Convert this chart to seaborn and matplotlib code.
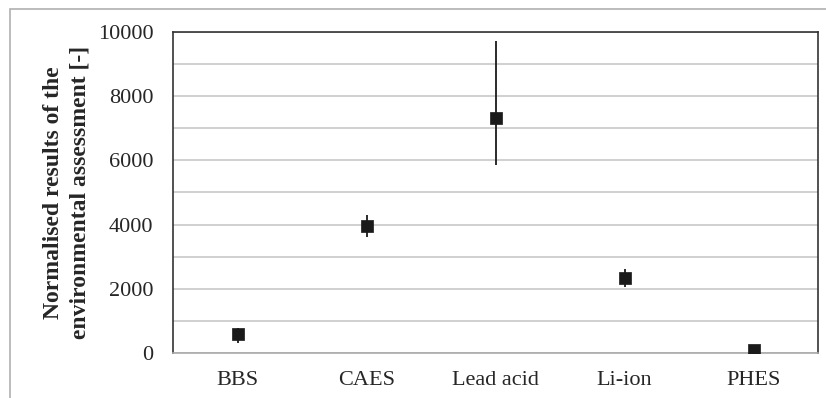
import matplotlib
matplotlib.use("Agg")
import matplotlib.pyplot as plt
import seaborn as sns
import pandas as pd
import numpy as np
from matplotlib.patches import Rectangle

categories = ["BBS", "CAES", "Lead acid", "Li-ion", "PHES"]
values = [580, 3970, 7310, 2340, 80]
err_low = [320, 3600, 5860, 2070, 80]
err_high = [790, 4300, 9730, 2610, 80]

df = pd.DataFrame({"system": categories, "value": values,
                   "low": err_low, "high": err_high})

sns.set_style("white")
plt.rcParams["font.family"] = ["Liberation Serif", "DejaVu Serif"]

fig = plt.figure(figsize=(8.26, 3.98), dpi=100)
ax = fig.add_axes([173/826, 1-353/398, (818-173)/826, (353-32)/398])

# outer frame
fig.patches.append(Rectangle((10/826, -0.1), 1.2, (398-8.5)/398 + 0.1,
                             transform=fig.transFigure, fill=False,
                             edgecolor="#b0b0b0", linewidth=1.2, zorder=0))

pos = np.arange(len(categories))
ax.vlines(pos, df["low"], df["high"], color="#1a1a1a", linewidth=1.3, zorder=3)
sns.scatterplot(data=df, x="system", y="value", marker="s", s=80,
                color="#1a1a1a", edgecolor="#1a1a1a", linewidth=0.5,
                ax=ax, zorder=4, legend=False)

ax.set_xlim(-0.5, len(categories) - 0.5)
ax.set_ylim(0, 10000)
ax.set_yticks(np.arange(0, 10001, 2000))
ax.set_yticks(np.arange(0, 10001, 1000), minor=True)
ax.set_yticklabels([str(v) for v in range(0, 10001, 2000)], fontsize=16)
ax.grid(True, which="both", axis="y", color="#c8c8c8", linewidth=1.2)
ax.set_axisbelow(True)

ax.set_xticks(pos)
ax.set_xticklabels(categories, fontsize=16)
ax.set_xticks(np.arange(-0.5, len(categories), 1.0), minor=True)
ax.tick_params(axis="x", which="major", length=0, pad=13)
ax.tick_params(axis="x", which="minor", length=5, color="#999999", direction="out", width=1)
ax.tick_params(axis="y", which="major", length=5, color="#333333", direction="out", width=1, pad=9)
ax.tick_params(axis="y", which="minor", length=0)

for side in ["left", "top", "right"]:
    ax.spines[side].set_visible(True)
    ax.spines[side].set_color("#333333")
    ax.spines[side].set_linewidth(1.2)
ax.spines["bottom"].set_color("#aaaaaa")
ax.spines["bottom"].set_linewidth(1.2)

ax.set_xlabel("")
ax.set_ylabel("Normalised results of the\nenvironmental assessment [-]",
              fontsize=17, fontweight="bold", linespacing=1.4, labelpad=5)

fig.savefig("out.png", dpi=100)
